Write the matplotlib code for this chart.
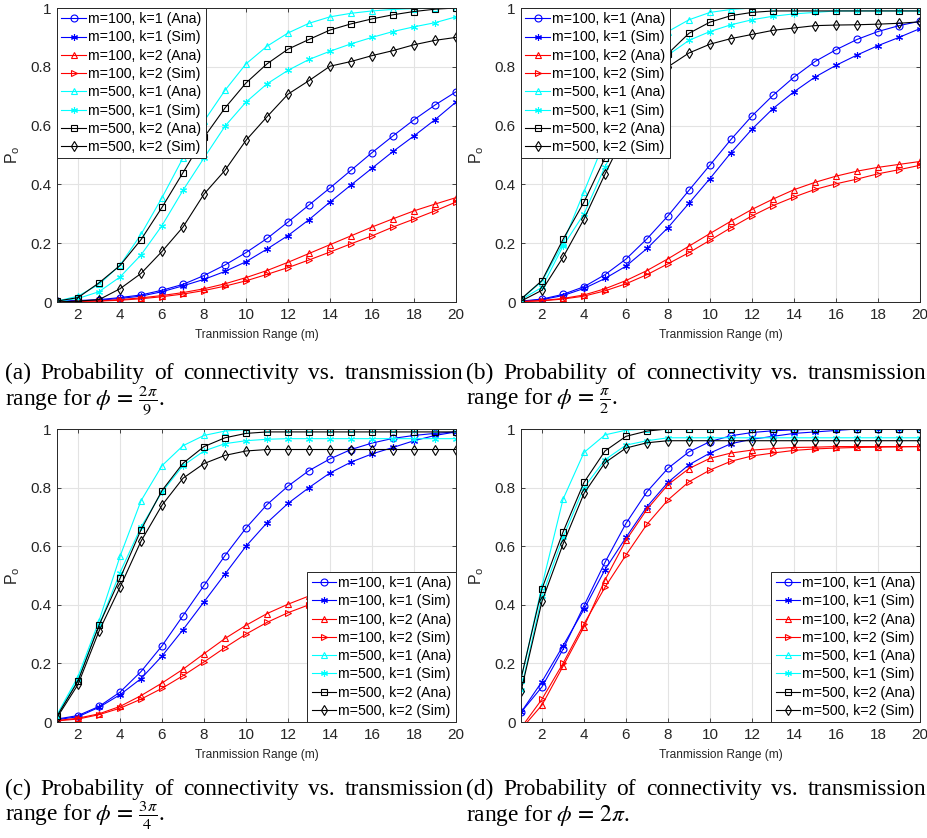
import numpy as np
import matplotlib.pyplot as plt

plt.rcParams['font.family'] = ['Liberation Sans', 'DejaVu Sans']
plt.rcParams['mathtext.fontset'] = 'stix'

x = np.arange(1, 21)

# (a) phi = 2pi/9
a_100_k1_ana = [0.003, 0.005, 0.008, 0.015, 0.024, 0.040, 0.060, 0.090, 0.126, 0.168, 0.216, 0.272, 0.330, 0.388, 0.448, 0.508, 0.565, 0.620, 0.670, 0.715]
a_100_k1_sim = [0.002, 0.004, 0.006, 0.012, 0.020, 0.035, 0.055, 0.077, 0.104, 0.137, 0.180, 0.226, 0.280, 0.340, 0.398, 0.455, 0.512, 0.565, 0.620, 0.680]
a_100_k2_ana = [0.001, 0.002, 0.004, 0.008, 0.014, 0.022, 0.032, 0.045, 0.062, 0.083, 0.107, 0.135, 0.165, 0.195, 0.225, 0.255, 0.283, 0.310, 0.333, 0.355]
a_100_k2_sim = [0.001, 0.002, 0.003, 0.006, 0.011, 0.018, 0.027, 0.039, 0.054, 0.072, 0.094, 0.117, 0.143, 0.170, 0.198, 0.225, 0.255, 0.282, 0.310, 0.340]
a_500_k1_ana = [0.003, 0.020, 0.060, 0.125, 0.230, 0.355, 0.490, 0.615, 0.720, 0.810, 0.870, 0.915, 0.948, 0.970, 0.982, 0.990, 0.995, 0.998, 0.999, 1.000]
a_500_k1_sim = [0.002, 0.012, 0.035, 0.085, 0.160, 0.260, 0.380, 0.490, 0.598, 0.680, 0.742, 0.788, 0.825, 0.853, 0.878, 0.900, 0.920, 0.936, 0.950, 0.970]
a_500_k2_ana = [0.003, 0.015, 0.065, 0.124, 0.212, 0.322, 0.440, 0.560, 0.660, 0.745, 0.810, 0.860, 0.893, 0.925, 0.946, 0.963, 0.977, 0.988, 0.996, 1.000]
a_500_k2_sim = [0.000, 0.003, 0.008, 0.045, 0.097, 0.172, 0.255, 0.367, 0.448, 0.550, 0.630, 0.707, 0.753, 0.802, 0.818, 0.838, 0.855, 0.875, 0.890, 0.900]

# (b) phi = pi/2
b_100_k1_ana = [0.003, 0.010, 0.026, 0.052, 0.093, 0.146, 0.215, 0.293, 0.380, 0.466, 0.553, 0.633, 0.703, 0.765, 0.818, 0.858, 0.893, 0.920, 0.940, 0.955]
b_100_k1_sim = [0.002, 0.008, 0.022, 0.046, 0.080, 0.122, 0.182, 0.253, 0.336, 0.420, 0.508, 0.588, 0.658, 0.715, 0.765, 0.805, 0.840, 0.872, 0.900, 0.930]
b_100_k2_ana = [0.002, 0.005, 0.012, 0.024, 0.045, 0.073, 0.107, 0.147, 0.190, 0.233, 0.275, 0.315, 0.350, 0.382, 0.407, 0.428, 0.445, 0.458, 0.468, 0.478]
b_100_k2_sim = [0.001, 0.004, 0.010, 0.020, 0.038, 0.062, 0.093, 0.130, 0.168, 0.210, 0.253, 0.293, 0.328, 0.357, 0.383, 0.402, 0.418, 0.436, 0.450, 0.465]
b_500_k1_ana = [0.010, 0.070, 0.200, 0.375, 0.550, 0.700, 0.830, 0.920, 0.960, 0.985, 0.995, 1.000, 1.000, 1.000, 1.000, 1.000, 1.000, 1.000, 1.000, 1.000]
b_500_k1_sim = [0.008, 0.050, 0.190, 0.300, 0.460, 0.600, 0.730, 0.840, 0.890, 0.920, 0.943, 0.960, 0.972, 0.980, 0.985, 0.990, 0.990, 0.990, 0.990, 0.990]
b_500_k2_ana = [0.010, 0.073, 0.213, 0.340, 0.490, 0.640, 0.760, 0.845, 0.914, 0.952, 0.974, 0.985, 0.990, 0.990, 0.990, 0.990, 0.990, 0.990, 0.990, 0.990]
b_500_k2_sim = [0.003, 0.040, 0.152, 0.282, 0.435, 0.580, 0.700, 0.800, 0.847, 0.877, 0.896, 0.910, 0.924, 0.932, 0.940, 0.942, 0.943, 0.945, 0.948, 0.953]

# (c) phi = 3pi/4
c_100_k1_ana = [0.010, 0.022, 0.053, 0.102, 0.172, 0.260, 0.363, 0.466, 0.568, 0.662, 0.742, 0.805, 0.858, 0.898, 0.930, 0.952, 0.968, 0.978, 0.985, 0.990]
c_100_k1_sim = [0.008, 0.018, 0.050, 0.093, 0.148, 0.225, 0.315, 0.410, 0.505, 0.600, 0.680, 0.746, 0.800, 0.850, 0.887, 0.915, 0.937, 0.960, 0.978, 0.990]
c_100_k2_ana = [0.005, 0.013, 0.028, 0.053, 0.090, 0.133, 0.180, 0.233, 0.285, 0.330, 0.370, 0.402, 0.430, 0.452, 0.468, 0.480, 0.488, 0.494, 0.497, 0.500]
c_100_k2_sim = [0.004, 0.010, 0.025, 0.047, 0.078, 0.115, 0.158, 0.205, 0.254, 0.300, 0.340, 0.373, 0.400, 0.420, 0.438, 0.452, 0.462, 0.470, 0.480, 0.490]
c_500_k1_ana = [0.025, 0.155, 0.345, 0.565, 0.755, 0.875, 0.943, 0.978, 0.993, 0.998, 1.000, 1.000, 1.000, 1.000, 1.000, 1.000, 1.000, 1.000, 1.000, 1.000]
c_500_k1_sim = [0.020, 0.145, 0.330, 0.510, 0.665, 0.785, 0.875, 0.925, 0.950, 0.960, 0.965, 0.967, 0.967, 0.967, 0.967, 0.967, 0.967, 0.967, 0.967, 0.967]
c_500_k2_ana = [0.020, 0.140, 0.330, 0.490, 0.656, 0.790, 0.883, 0.940, 0.970, 0.985, 0.990, 0.990, 0.990, 0.990, 0.990, 0.990, 0.990, 0.990, 0.990, 0.990]
c_500_k2_sim = [0.015, 0.128, 0.310, 0.460, 0.617, 0.740, 0.832, 0.882, 0.910, 0.925, 0.930, 0.930, 0.930, 0.930, 0.930, 0.930, 0.930, 0.930, 0.930, 0.930]

# (d) phi = 2pi
d_100_k1_ana = [0.033, 0.120, 0.248, 0.397, 0.545, 0.678, 0.786, 0.866, 0.922, 0.957, 0.977, 0.988, 0.994, 0.997, 0.999, 1.000, 1.000, 1.000, 1.000, 1.000]
d_100_k1_sim = [0.033, 0.138, 0.260, 0.385, 0.520, 0.630, 0.735, 0.818, 0.878, 0.918, 0.950, 0.965, 0.975, 0.985, 0.990, 0.995, 1.000, 1.000, 1.000, 1.000]
d_100_k2_ana = [-0.025, 0.058, 0.190, 0.325, 0.485, 0.620, 0.726, 0.810, 0.865, 0.900, 0.918, 0.928, 0.933, 0.937, 0.938, 0.940, 0.940, 0.940, 0.940, 0.940]
d_100_k2_sim = [-0.020, 0.078, 0.200, 0.335, 0.460, 0.570, 0.675, 0.758, 0.820, 0.860, 0.890, 0.908, 0.918, 0.927, 0.932, 0.935, 0.937, 0.938, 0.939, 0.940]
d_500_k1_ana = [0.145, 0.465, 0.760, 0.920, 0.980, 0.996, 1.000, 1.000, 1.000, 1.000, 1.000, 1.000, 1.000, 1.000, 1.000, 1.000, 1.000, 1.000, 1.000, 1.000]
d_500_k1_sim = [0.110, 0.430, 0.630, 0.800, 0.895, 0.945, 0.960, 0.970, 0.970, 0.970, 0.970, 0.970, 0.970, 0.970, 0.970, 0.970, 0.970, 0.970, 0.970, 0.970]
d_500_k2_ana = [0.148, 0.455, 0.648, 0.818, 0.925, 0.975, 0.993, 1.000, 1.000, 1.000, 1.000, 1.000, 1.000, 1.000, 1.000, 1.000, 1.000, 1.000, 1.000, 1.000]
d_500_k2_sim = [0.105, 0.412, 0.607, 0.780, 0.885, 0.935, 0.953, 0.960, 0.960, 0.960, 0.960, 0.960, 0.960, 0.960, 0.960, 0.960, 0.960, 0.960, 0.960, 0.960]

labels = ['m=100, k=1 (Ana)', 'm=100, k=1 (Sim)', 'm=100, k=2 (Ana)', 'm=100, k=2 (Sim)',
          'm=500, k=1 (Ana)', 'm=500, k=1 (Sim)', 'm=500, k=2 (Ana)', 'm=500, k=2 (Sim)']
colors = ['#0000ff', '#0000ff', '#ff0000', '#ff0000', '#00ffff', '#00ffff', '#000000', '#000000']
markers = ['o', (6, 2, 0), '^', '>', '^', (6, 2, 0), 's', 'd']
msizes = [5, 5, 5, 5, 5, 5, 4.2, 5]

series = [
    [a_100_k1_ana, a_100_k1_sim, a_100_k2_ana, a_100_k2_sim, a_500_k1_ana, a_500_k1_sim, a_500_k2_ana, a_500_k2_sim],
    [b_100_k1_ana, b_100_k1_sim, b_100_k2_ana, b_100_k2_sim, b_500_k1_ana, b_500_k1_sim, b_500_k2_ana, b_500_k2_sim],
    [c_100_k1_ana, c_100_k1_sim, c_100_k2_ana, c_100_k2_sim, c_500_k1_ana, c_500_k1_sim, c_500_k2_ana, c_500_k2_sim],
    [d_100_k1_ana, d_100_k1_sim, d_100_k2_ana, d_100_k2_sim, d_500_k1_ana, d_500_k1_sim, d_500_k2_ana, d_500_k2_sim],
]
legend_locs = ['upper left', 'upper left', 'lower right', 'lower right']
caption_tags = ['(a)', '(b)', '(c)', '(d)']
caption_phis = [r'$\phi\,=\,\frac{2\pi}{9}$.', r'$\phi\,=\,\frac{\pi}{2}$.',
                r'$\phi\,=\,\frac{3\pi}{4}$.', r'$\phi\,=\,2\pi$.']

W, H = 928, 838
fig = plt.figure(figsize=(W / 100, H / 100), dpi=100)

# axes boxes in pixels: left, top, right, bottom
boxes = [(57, 8, 456, 302), (521, 8, 920, 302), (57, 429, 456, 722), (521, 429, 920, 722)]
dark = '#262626'

for i, (l, t, r, b) in enumerate(boxes):
    ax = fig.add_axes([l / W, 1 - b / H, (r - l) / W, (b - t) / H])
    for j in range(8):
        mfc = 'none' if j not in (1, 5) else colors[j]
        ax.plot(x, series[i][j], color=colors[j], marker=markers[j], ms=msizes[j],
                mfc=mfc, mew=0.8, lw=0.8, label=labels[j])
    ax.set_xlim(1, 20)
    ax.set_ylim(0, 1)
    ax.set_xticks(np.arange(2, 21, 2))
    ax.set_yticks([0, 0.2, 0.4, 0.6, 0.8, 1])
    ax.set_yticklabels(['0', '0.2', '0.4', '0.6', '0.8', '1'])
    ax.grid(True, color='#e3e3e3', lw=0.8)
    ax.set_axisbelow(True)
    ax.tick_params(direction='in', top=True, right=True, length=3, width=0.6,
                   labelsize=11, colors=dark, pad=4)
    for s in ax.spines.values():
        s.set_color(dark)
        s.set_linewidth(0.7)
    ax.set_xlabel('Tranmission Range (m)', fontsize=8.6, color=dark, labelpad=5)
    ax.set_ylabel(r'$\mathregular{P_o}$', fontsize=11.5, color=dark, labelpad=6)
    leg = ax.legend(loc=legend_locs[i], fontsize=10.2, borderaxespad=0, borderpad=0.3,
                    labelspacing=0.3, handlelength=1.75, handletextpad=0.15,
                    fancybox=False, framealpha=1, edgecolor=dark)
    leg.get_frame().set_linewidth(0.7)

# captions, first line justified over the column width
serif = dict(family=['Liberation Serif', 'DejaVu Serif'], fontsize=16.8, color='black', va='baseline')
renderer = fig.canvas.get_renderer()
cols = [(5, 463), (466, 926), (5, 463), (466, 926)]
base1 = [379, 379, 795, 795]
for i in range(4):
    x0, x1 = cols[i]
    words = [caption_tags[i], 'Probability', 'of', 'connectivity', 'vs.', 'transmission']
    texts = [fig.text(0, 1 - base1[i] / H, w, **serif) for w in words]
    widths = [t.get_window_extent(renderer).width for t in texts]
    gap = (x1 - x0 - sum(widths)) / (len(words) - 1)
    pos = x0
    for t, w in zip(texts, widths):
        t.set_x(pos / W)
        pos += w + gap
    fig.text(x0 / W, 1 - (base1[i] + 26) / H, 'range for ' + caption_phis[i], **serif)

fig.savefig('out.png', dpi=100)
